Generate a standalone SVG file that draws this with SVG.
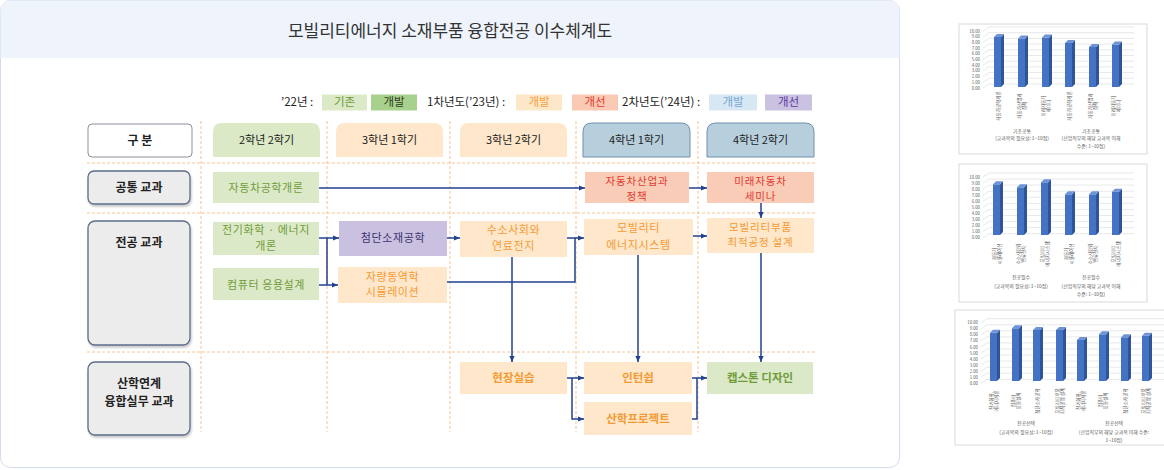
<svg xmlns="http://www.w3.org/2000/svg" width="1164" height="470" viewBox="0 0 1164 470">
<style>
text{font-family:"Noto Sans CJK KR","Noto Sans",sans-serif}
.dash{stroke:#f5c391;stroke-width:1;stroke-dasharray:3 2;fill:none}
.lbl{fill:#ececec;stroke:#5d6c89;stroke-width:1.3;filter:url(#sh)}
.lt{font-size:12px;font-weight:bold;fill:#222;text-anchor:middle}
.ht{font-size:11px;fill:#222;text-anchor:middle}
.ct{font-size:11px;text-anchor:middle;letter-spacing:0.6px}
.ct2{font-size:10.5px;text-anchor:middle;letter-spacing:0.8px}
.bt{font-size:11.5px;font-weight:bold;text-anchor:middle}
.lg{font-size:11.5px;fill:#222}
.lgb{font-size:11.5px;text-anchor:middle}
.g{fill:#dce9c8}.gt{fill:#6f9c3a}
.p{fill:#fee7ca}.pt{fill:#f39a34}
.r{fill:#f9ccb7}.rt{fill:#e2392e}
.v{fill:#cac0e0}.vt{fill:#3b3370}
.conn{stroke:#22418e;stroke-width:1.5;fill:none}
.card{fill:#fff;stroke:#d9d9d9;stroke-width:1}
.grid{stroke:#d9d9d9;stroke-width:0.6;fill:none}
.ax{font-size:4.3px;fill:#595959;text-anchor:end}
.cl{font-size:4.6px;fill:#595959;text-anchor:middle}
.gl{font-size:4.9px;fill:#595959;text-anchor:middle}
.bf{fill:#4472c4}.bs{fill:#2f5597}.bp{fill:#6d93d8}
</style>
<defs>
<filter id="sh" x="-10%" y="-10%" width="130%" height="140%"><feDropShadow dx="1" dy="2" stdDeviation="1.2" flood-color="#000" flood-opacity="0.22"/></filter>
<marker id="ar" viewBox="0 0 6 6" refX="6" refY="3" markerWidth="6" markerHeight="6" markerUnits="userSpaceOnUse" orient="auto"><path d="M0,0.4 L6,3 L0,5.6 z" fill="#22418e"/></marker>
</defs>

<!-- main panel -->
<rect x="0.5" y="0.5" width="899" height="467" rx="10" fill="#fff" stroke="#d3dcee"/>
<path d="M0.5,58 V10.5 Q0.5,0.5 10.5,0.5 H889.5 Q899.5,0.5 899.5,10.5 V58 Z" fill="#eef3fc"/>
<text x="450" y="36.5" font-size="17" fill="#333" text-anchor="middle">모빌리티에너지 소재부품 융합전공 이수체계도</text>

<!-- legend -->
<g id="legend">
<text class="lg" x="281" y="106.2">’22년 :</text>
<rect x="322" y="94.5" width="45" height="16" fill="#dbe9c6"/><text class="lgb" x="344.5" y="106.2" fill="#6a9c3a">기존</text>
<rect x="371" y="94.5" width="46" height="16" fill="#a9d18e"/><text class="lgb" x="394" y="106.2" fill="#2b3d1a">개발</text>
<text class="lg" x="427" y="106.2">1차년도(’23년) :</text>
<rect x="516" y="94.5" width="46" height="16" fill="#fde7c9"/><text class="lgb" x="539" y="106.2" fill="#f6a03c">개발</text>
<rect x="572" y="94.5" width="46" height="16" fill="#f9c9b3"/><text class="lgb" x="595" y="106.2" fill="#e23a2f">개선</text>
<text class="lg" x="622" y="106.2">2차년도(’24년) :</text>
<rect x="709" y="94.5" width="48" height="16" fill="#d7e7f3"/><text class="lgb" x="733" y="106.2" fill="#7aa7d3">개발</text>
<rect x="765" y="94.5" width="47" height="16" fill="#cbc1e1"/><text class="lgb" x="788.5" y="106.2" fill="#5b3b9e">개선</text>
</g>

<!-- grid -->
<g id="grid">
<path class="dash" d="M201,121 V432 M327,121 V432 M450,121 V432 M576,121 V432 M698,121 V432"/>
<path class="dash" d="M87,163 H815 M87,213 H815 M87,352 H815"/>
</g>

<!-- column headers -->
<g id="h0"><rect x="88" y="124" width="104" height="33" rx="4" fill="#fff" stroke="#8a8f99"/><text class="lt" x="140" y="145">구 분</text></g>
<g id="h1"><path d="M213,157 V132 Q213,123 222,123 H311 Q320,123 320,132 V157 Z" fill="#dbe9c6"/><text class="ht" x="266.5" y="144.2">2학년 2학기</text></g>
<g id="h2"><path d="M336,157 V132 Q336,123 345,123 H434 Q443,123 443,132 V157 Z" fill="#fee7ca"/><text class="ht" x="389.5" y="144.2">3학년 1학기</text></g>
<g id="h3"><path d="M460,157 V132 Q460,123 469,123 H558 Q567,123 567,132 V157 Z" fill="#fee7ca"/><text class="ht" x="513.5" y="144.2">3학년 2학기</text></g>
<g id="h4"><path d="M583,157 V132 Q583,123 592,123 H681 Q690,123 690,132 V157 Z" fill="#b7cedc" stroke="#6f8fae"/><text class="ht" x="636.5" y="144.2">4학년 1학기</text></g>
<g id="h5"><path d="M707,157 V132 Q707,123 716,123 H805 Q814,123 814,132 V157 Z" fill="#b7cedc" stroke="#6f8fae"/><text class="ht" x="760.5" y="144.2">4학년 2학기</text></g>

<!-- row labels -->
<g id="r1"><rect class="lbl" x="88" y="171" width="102" height="33" rx="6"/><text class="lt" x="139" y="191.5">공통 교과</text></g>
<g id="r2"><rect class="lbl" x="88" y="221" width="102" height="124" rx="7"/><text class="lt" x="139" y="246.5">전공 교과</text></g>
<g id="r3"><rect class="lbl" x="88" y="362" width="102" height="73" rx="7"/><text class="lt" x="139" y="387.5">산학연계</text><text class="lt" x="139" y="405.5">융합실무 교과</text></g>

<!-- courses -->
<g id="n1"><rect class="g" x="213" y="172" width="106" height="31"/><text class="ct gt" x="266" y="191.7">자동차공학개론</text></g>
<g id="n2"><rect class="r" x="585" y="172" width="104" height="31"/><text class="ct2 rt" x="637" y="185">자동차산업과</text><text class="ct2 rt" x="637" y="199.5">정책</text></g>
<g id="n3"><rect class="r" x="707" y="172" width="107" height="31"/><text class="ct2 rt" x="760.5" y="185">미래자동차</text><text class="ct2 rt" x="760.5" y="199.5">세미나</text></g>
<g id="n4"><rect class="g" x="213" y="222" width="106" height="33"/><text class="ct gt" x="266" y="234.2">전기화학 · 에너지</text><text class="ct gt" x="266" y="250.2">개론</text></g>
<g id="n5"><rect class="g" x="213" y="268" width="106" height="32"/><text class="ct gt" x="266" y="288.7">컴퓨터 응용설계</text></g>
<g id="n6"><rect class="v" x="339" y="221" width="108" height="35"/><text class="ct vt" x="393" y="242.2">첨단소재공학</text></g>
<g id="n7"><rect class="p" x="338" y="267" width="109" height="36"/><text class="ct pt" x="392.5" y="280.9">자량동역학</text><text class="ct pt" x="392.5" y="296.2">시뮬레이션</text></g>
<g id="n8"><rect class="p" x="460" y="221" width="107" height="36"/><text class="ct pt" x="513.5" y="234.2">수소사회와</text><text class="ct pt" x="513.5" y="250.2">연료전지</text></g>
<g id="n9"><rect class="p" x="584" y="219" width="109" height="36"/><text class="ct pt" x="638.5" y="232.2">모빌리티</text><text class="ct pt" x="638.5" y="249.2">에너지시스템</text></g>
<g id="n10"><rect class="p" x="707" y="218" width="107" height="35"/><text class="ct2 pt" x="760.5" y="231.3">모빌리티부품</text><text class="ct2 pt" x="760.5" y="246">최적공정 설계</text></g>
<g id="n11"><rect class="p" x="460" y="362" width="107" height="32"/><text class="bt pt" x="513.5" y="382.2">현장실습</text></g>
<g id="n12"><rect class="p" x="584" y="362" width="108" height="32"/><text class="bt pt" x="638" y="382.2">인턴쉽</text></g>
<g id="n13"><rect class="p" x="584" y="402" width="108" height="33"/><text class="bt pt" x="638" y="422.7">산학프로젝트</text></g>
<g id="n14"><rect class="g" x="707" y="362" width="106" height="32"/><text class="bt gt" x="760" y="382.2">캡스톤 디자인</text></g>

<!-- connectors -->
<g id="connectors">
<path class="conn" d="M319,188 H585" marker-end="url(#ar)"/>
<path class="conn" d="M689,188 H707" marker-end="url(#ar)"/>
<path class="conn" d="M761,203 V218" marker-end="url(#ar)"/>
<path class="conn" d="M319,238 H339" marker-end="url(#ar)"/>
<path class="conn" d="M319,285 H338" marker-end="url(#ar)"/>
<path class="conn" d="M327,238 V285"/>
<path class="conn" d="M447,238 H460" marker-end="url(#ar)"/>
<path class="conn" d="M567,238 H584" marker-end="url(#ar)"/>
<path class="conn" d="M447,282 H575 V238"/>
<path class="conn" d="M693,236 H707" marker-end="url(#ar)"/>
<path class="conn" d="M512,257 V362" marker-end="url(#ar)"/>
<path class="conn" d="M638,255 V362" marker-end="url(#ar)"/>
<path class="conn" d="M761,253 V362" marker-end="url(#ar)"/>
<path class="conn" d="M567,378 H584" marker-end="url(#ar)"/>
<path class="conn" d="M572,378 V419 H584" marker-end="url(#ar)"/>
<path class="conn" d="M692,378 H707" marker-end="url(#ar)"/>
<path class="conn" d="M692,419 H697 V378"/>
</g>

<!-- chart 1 -->
<g id="chart1">
<rect class="card" x="959" y="24" width="188" height="130"/>
<path class="grid" d="M983,88 L989,84 H1134 M983,82.3 L989,78.3 H1134 M983,76.6 L989,72.6 H1134 M983,70.9 L989,66.9 H1134 M983,65.2 L989,61.2 H1134 M983,59.5 L989,55.5 H1134 M983,53.8 L989,49.8 H1134 M983,48.1 L989,44.1 H1134 M983,42.4 L989,38.4 H1134 M983,36.7 L989,32.7 H1134 M983,31 L989,27 H1134"/>
<text class="ax" x="980" y="89.5">0.00</text><text class="ax" x="980" y="83.8">1.00</text><text class="ax" x="980" y="78.1">2.00</text><text class="ax" x="980" y="72.4">3.00</text><text class="ax" x="980" y="66.7">4.00</text><text class="ax" x="980" y="61">5.00</text><text class="ax" x="980" y="55.3">6.00</text><text class="ax" x="980" y="49.6">7.00</text><text class="ax" x="980" y="43.9">8.00</text><text class="ax" x="980" y="38.2">9.00</text><text class="ax" x="980" y="32.5">10.00</text>
<rect class="bf" x="994" y="37" width="7" height="50"/><polygon class="bs" points="1001,37 1004,34 1004,84 1001,87"/><polygon class="bp" points="994,37 997,34 1004,34 1001,37"/>
<rect class="bf" x="1018" y="38.5" width="7" height="48.5"/><polygon class="bs" points="1025,38.5 1028,35.5 1028,84 1025,87"/><polygon class="bp" points="1018,38.5 1021,35.5 1028,35.5 1025,38.5"/>
<rect class="bf" x="1042" y="37.5" width="7" height="49.5"/><polygon class="bs" points="1049,37.5 1052,34.5 1052,84 1049,87"/><polygon class="bp" points="1042,37.5 1045,34.5 1052,34.5 1049,37.5"/>
<rect class="bf" x="1065" y="43" width="7" height="44"/><polygon class="bs" points="1072,43 1075,40 1075,84 1072,87"/><polygon class="bp" points="1065,43 1068,40 1075,40 1072,43"/>
<rect class="bf" x="1089" y="47" width="7" height="40"/><polygon class="bs" points="1096,47 1099,44 1099,84 1096,87"/><polygon class="bp" points="1089,47 1092,44 1099,44 1096,47"/>
<rect class="bf" x="1112" y="44.5" width="7" height="42.5"/><polygon class="bs" points="1119,44.5 1122,41.5 1122,84 1119,87"/><polygon class="bp" points="1112,44.5 1115,41.5 1122,41.5 1119,44.5"/>
<text class="cl" transform="translate(998,106) rotate(-90)" y="1.6">자동차공학개론</text>
<text class="cl" transform="translate(1022,106) rotate(-90)"><tspan x="0" y="-0.9">자동차산업과</tspan><tspan x="0" y="4.1">정책</tspan></text>
<text class="cl" transform="translate(1046,106) rotate(-90)"><tspan x="0" y="-0.9">미래자동차</tspan><tspan x="0" y="4.1">세미나</tspan></text>
<text class="cl" transform="translate(1069,106) rotate(-90)" y="1.6">자동차공학개론</text>
<text class="cl" transform="translate(1093,106) rotate(-90)"><tspan x="0" y="-0.9">자동차산업과</tspan><tspan x="0" y="4.1">정책</tspan></text>
<text class="cl" transform="translate(1116,106) rotate(-90)"><tspan x="0" y="-0.9">미래자동차</tspan><tspan x="0" y="4.1">세미나</tspan></text>
<text class="gl" x="1022" y="132.5">기초공통</text><text class="gl" x="1022" y="140">(교과목의 필요성: 1~10점)</text>
<text class="gl" x="1091" y="132.5">기초공통</text><text class="gl" x="1091" y="140">(산업직무의 해당 교과목 이해</text><text class="gl" x="1091" y="148.3">수준: 1~10점)</text>
</g>

<!-- chart 2 -->
<g id="chart2">
<rect class="card" x="959" y="164" width="188" height="138"/>
<path class="grid" d="M983,237.7 L989,233.7 H1134 M983,231.6 L989,227.6 H1134 M983,225.6 L989,221.6 H1134 M983,219.5 L989,215.5 H1134 M983,213.4 L989,209.4 H1134 M983,207.4 L989,203.4 H1134 M983,201.3 L989,197.3 H1134 M983,195.2 L989,191.2 H1134 M983,189.1 L989,185.1 H1134 M983,183.1 L989,179.1 H1134 M983,177 L989,173 H1134"/>
<text class="ax" x="980" y="239.2">0.00</text><text class="ax" x="980" y="233.1">1.00</text><text class="ax" x="980" y="227.1">2.00</text><text class="ax" x="980" y="221">3.00</text><text class="ax" x="980" y="214.9">4.00</text><text class="ax" x="980" y="208.9">5.00</text><text class="ax" x="980" y="202.8">6.00</text><text class="ax" x="980" y="196.7">7.00</text><text class="ax" x="980" y="190.6">8.00</text><text class="ax" x="980" y="184.6">9.00</text><text class="ax" x="980" y="178.5">10.00</text>
<rect class="bf" x="993" y="184.3" width="7" height="50.7"/><polygon class="bs" points="1000,184.3 1003,181.3 1003,232 1000,235"/><polygon class="bp" points="993,184.3 996,181.3 1003,181.3 1000,184.3"/>
<rect class="bf" x="1017" y="187.3" width="7" height="47.7"/><polygon class="bs" points="1024,187.3 1027,184.3 1027,232 1024,235"/><polygon class="bp" points="1017,187.3 1020,184.3 1027,184.3 1024,187.3"/>
<rect class="bf" x="1041" y="182.3" width="7" height="52.7"/><polygon class="bs" points="1048,182.3 1051,179.3 1051,232 1048,235"/><polygon class="bp" points="1041,182.3 1044,179.3 1051,179.3 1048,182.3"/>
<rect class="bf" x="1065" y="194.3" width="7" height="40.7"/><polygon class="bs" points="1072,194.3 1075,191.3 1075,232 1072,235"/><polygon class="bp" points="1065,194.3 1068,191.3 1075,191.3 1072,194.3"/>
<rect class="bf" x="1089" y="194.3" width="7" height="40.7"/><polygon class="bs" points="1096,194.3 1099,191.3 1099,232 1096,235"/><polygon class="bp" points="1089,194.3 1092,191.3 1099,191.3 1096,194.3"/>
<rect class="bf" x="1112" y="191.7" width="7" height="43.3"/><polygon class="bs" points="1119,191.7 1122,188.7 1122,232 1119,235"/><polygon class="bp" points="1112,191.7 1115,188.7 1122,188.7 1119,191.7"/>
<text class="cl" transform="translate(997,254) rotate(-90)"><tspan x="0" y="-0.9">자동차</tspan><tspan x="0" y="4.1">시뮬레이션</tspan></text>
<text class="cl" transform="translate(1021,254) rotate(-90)"><tspan x="0" y="-0.9">수소사회와</tspan><tspan x="0" y="4.1">연료전지</tspan></text>
<text class="cl" transform="translate(1045,254) rotate(-90)"><tspan x="0" y="-0.9">모빌리티</tspan><tspan x="0" y="4.1">에너지시스템</tspan></text>
<text class="cl" transform="translate(1069,254) rotate(-90)"><tspan x="0" y="-0.9">자동차</tspan><tspan x="0" y="4.1">시뮬레이션</tspan></text>
<text class="cl" transform="translate(1093,254) rotate(-90)"><tspan x="0" y="-0.9">수소사회와</tspan><tspan x="0" y="4.1">연료전지</tspan></text>
<text class="cl" transform="translate(1116,254) rotate(-90)"><tspan x="0" y="-0.9">모빌리티</tspan><tspan x="0" y="4.1">에너지시스템</tspan></text>
<text class="gl" x="1021" y="278.5">전공필수</text><text class="gl" x="1021" y="287.5">(교과목의 필요성: 1~10점)</text>
<text class="gl" x="1091" y="278.5">전공필수</text><text class="gl" x="1091" y="287.5">(산업직무의 해당 교과목 이해</text><text class="gl" x="1091" y="295.8">수준: 1~10점)</text>
</g>

<!-- chart 3 -->
<g id="chart3">
<rect class="card" x="955" y="310" width="220" height="135"/>
<path class="grid" d="M981,383.3 L987,379.3 H1164 M981,377.2 L987,373.2 H1164 M981,371.2 L987,367.2 H1164 M981,365.1 L987,361.1 H1164 M981,359.1 L987,355.1 H1164 M981,353 L987,349 H1164 M981,347 L987,343 H1164 M981,340.9 L987,336.9 H1164 M981,334.8 L987,330.8 H1164 M981,328.8 L987,324.8 H1164 M981,322.7 L987,318.7 H1164"/>
<text class="ax" x="978" y="384.8">0.00</text><text class="ax" x="978" y="378.7">1.00</text><text class="ax" x="978" y="372.7">2.00</text><text class="ax" x="978" y="366.6">3.00</text><text class="ax" x="978" y="360.6">4.00</text><text class="ax" x="978" y="354.5">5.00</text><text class="ax" x="978" y="348.5">6.00</text><text class="ax" x="978" y="342.4">7.00</text><text class="ax" x="978" y="336.3">8.00</text><text class="ax" x="978" y="330.3">9.00</text><text class="ax" x="978" y="324.2">10.00</text>
<rect class="bf" x="990" y="332.7" width="7" height="48.3"/><polygon class="bs" points="997,332.7 1000,329.7 1000,378 997,381"/><polygon class="bp" points="990,332.7 993,329.7 1000,329.7 997,332.7"/>
<rect class="bf" x="1012" y="328.3" width="7" height="52.7"/><polygon class="bs" points="1019,328.3 1022,325.3 1022,378 1019,381"/><polygon class="bp" points="1012,328.3 1015,325.3 1022,325.3 1019,328.3"/>
<rect class="bf" x="1033" y="330" width="7" height="51"/><polygon class="bs" points="1040,330 1043,327 1043,378 1040,381"/><polygon class="bp" points="1033,330 1036,327 1043,327 1040,330"/>
<rect class="bf" x="1056" y="330" width="7" height="51"/><polygon class="bs" points="1063,330 1066,327 1066,378 1063,381"/><polygon class="bp" points="1056,330 1059,327 1066,327 1063,330"/>
<rect class="bf" x="1077" y="340" width="7" height="41"/><polygon class="bs" points="1084,340 1087,337 1087,378 1084,381"/><polygon class="bp" points="1077,340 1080,337 1087,337 1084,340"/>
<rect class="bf" x="1099" y="334.3" width="7" height="46.7"/><polygon class="bs" points="1106,334.3 1109,331.3 1109,378 1106,381"/><polygon class="bp" points="1099,334.3 1102,331.3 1109,331.3 1106,334.3"/>
<rect class="bf" x="1121" y="337.3" width="7" height="43.7"/><polygon class="bs" points="1128,337.3 1131,334.3 1131,378 1128,381"/><polygon class="bp" points="1121,337.3 1124,334.3 1131,334.3 1128,337.3"/>
<rect class="bf" x="1142" y="335.7" width="7" height="45.3"/><polygon class="bs" points="1149,335.7 1152,332.7 1152,378 1149,381"/><polygon class="bp" points="1142,335.7 1145,332.7 1152,332.7 1149,335.7"/>
<text class="cl" transform="translate(994,401) rotate(-90)"><tspan x="0" y="-0.9">전기화학,</tspan><tspan x="0" y="4.1">에너지개론</tspan></text>
<text class="cl" transform="translate(1016,401) rotate(-90)"><tspan x="0" y="-0.9">컴퓨터</tspan><tspan x="0" y="4.1">응용설계</tspan></text>
<text class="cl" transform="translate(1037,401) rotate(-90)" y="1.6">첨단소재공학</text>
<text class="cl" transform="translate(1060,401) rotate(-90)"><tspan x="0" y="-0.9">모빌리티부품</tspan><tspan x="0" y="4.1">최적공정 설계</tspan></text>
<text class="cl" transform="translate(1081,401) rotate(-90)"><tspan x="0" y="-0.9">전기화학,</tspan><tspan x="0" y="4.1">에너지개론</tspan></text>
<text class="cl" transform="translate(1103,401) rotate(-90)"><tspan x="0" y="-0.9">컴퓨터</tspan><tspan x="0" y="4.1">응용설계</tspan></text>
<text class="cl" transform="translate(1125,401) rotate(-90)" y="1.6">첨단소재공학</text>
<text class="cl" transform="translate(1146,401) rotate(-90)"><tspan x="0" y="-0.9">모빌리티부품</tspan><tspan x="0" y="4.1">최적공정 설계</tspan></text>
<text class="gl" x="1026" y="425">전공선택</text><text class="gl" x="1026" y="433.8">(교과목의 필요성: 1~10점)</text>
<text class="gl" x="1114" y="425">전공선택</text><text class="gl" x="1114" y="433.8">(산업직무의 해당 교과목 이해 수준:</text><text class="gl" x="1114" y="442">1~10점)</text>
</g>
</svg>
